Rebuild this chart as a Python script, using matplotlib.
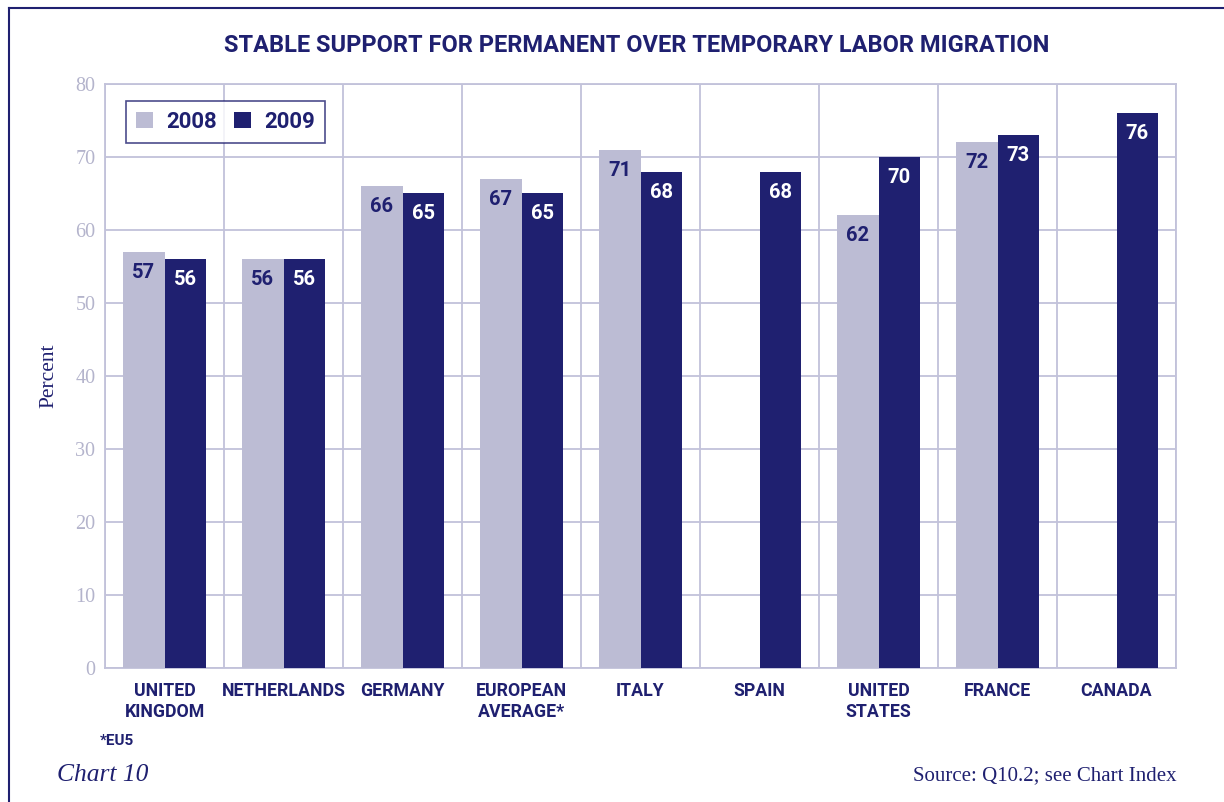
import matplotlib
matplotlib.use("Agg")
import matplotlib.pyplot as plt
import numpy as np
from matplotlib.patches import Patch
from matplotlib.lines import Line2D

categories = ["UNITED\nKINGDOM", "NETHERLANDS", "GERMANY", "EUROPEAN\nAVERAGE*", "ITALY",
              "SPAIN", "UNITED\nSTATES", "FRANCE", "CANADA"]
series_2008 = [57, 56, 66, 67, 71, None, 62, 72, None]
series_2009 = [56, 56, 65, 65, 68, 68, 70, 73, 76]
yticks = [0, 10, 20, 30, 40, 50, 60, 70, 80]

LIGHT = "#bcbcd4"
DARK = "#1f2070"
GRID = "#c2c2da"
TICK = "#b4b4cc"
SANS = "Roboto"
SERIF = "Liberation Serif"

fig = plt.figure(figsize=(12.24, 8.02), dpi=100)
ax = fig.add_axes([105/1224, 1-668/802, (1176-105)/1224, (668-84)/802])

x = np.arange(len(categories))
w = 0.35
for i in range(len(categories)):
    v8 = series_2008[i]
    v9 = series_2009[i]
    if v8 is not None:
        ax.bar(x[i]-w/2, v8, width=w, color=LIGHT, zorder=3)
        ax.text(x[i]-w/2, v8-1.5, str(v8), ha="center", va="top", color=DARK,
                fontsize=14.5, fontweight="bold", family=SANS, zorder=4)
    if v9 is not None:
        ax.bar(x[i]+w/2, v9, width=w, color=DARK, zorder=3)
        ax.text(x[i]+w/2, v9-1.5, str(v9), ha="center", va="top", color="white",
                fontsize=14.5, fontweight="bold", family=SANS, zorder=4)

ax.set_xlim(-0.5, len(categories)-0.5)
ax.set_ylim(0, 80)
ax.set_yticks(yticks)
ax.set_yticklabels([str(t) for t in yticks], family=SERIF, fontsize=14.5, color=TICK)
ax.set_xticks(x)
ax.set_xticklabels(categories, family=SANS, fontweight="bold", fontsize=12.8,
                   color=DARK, linespacing=1.2, va="top")
ax.tick_params(axis="both", length=0)
ax.tick_params(axis="x", pad=10)
ax.tick_params(axis="y", pad=7)
for b in np.arange(-0.5, len(categories), 1.0):
    ax.axvline(b, color=GRID, lw=1.3, zorder=1)
ax.yaxis.grid(True, color=GRID, lw=1.3, zorder=1)
ax.set_axisbelow(True)
for s in ax.spines.values():
    s.set_color(GRID)
    s.set_linewidth(1.3)

ax.set_ylabel("Percent", family=SERIF, fontsize=15.5, color=DARK)
ax.yaxis.set_label_coords((58-105)/1071, 0.5)

handles = [Patch(facecolor=LIGHT, label="2008"), Patch(facecolor=DARK, label="2009")]
leg = ax.legend(handles=handles, loc="upper left", bbox_to_anchor=(21/1071, 1-17/584),
                ncol=2, frameon=True, fancybox=False, prop={"family": SANS, "weight": "bold", "size": 16},
                handlelength=0.75, handleheight=0.75, handletextpad=0.6, columnspacing=0.8,
                borderpad=0.45, borderaxespad=0, labelcolor=DARK)
leg.get_frame().set_edgecolor(DARK)
leg.get_frame().set_linewidth(1.2)

fig.text(637/1224, 1-46/802, "STABLE SUPPORT FOR PERMANENT OVER TEMPORARY LABOR MIGRATION",
         ha="center", va="center", family=SANS, fontweight="bold", fontsize=17, color=DARK)
fig.text(100/1224, 1-741/802, "*EU5", ha="left", va="center", family=SANS,
         fontweight="bold", fontsize=11, color=DARK)
fig.text(57/1224, 1-775/802, "Chart 10", ha="left", va="center", family=SERIF,
         style="italic", fontsize=18.4, color=DARK)
fig.text(1177/1224, 1-776/802, "Source: Q10.2; see Chart Index", ha="right", va="center",
         family=SERIF, fontsize=15, color=DARK)

fig.add_artist(Line2D([9/1224, 1], [1-8/802, 1-8/802], color=DARK, lw=1.5))
fig.add_artist(Line2D([9/1224, 9/1224], [0, 1-8/802], color=DARK, lw=1.5))

fig.savefig("out.png", dpi=100)
